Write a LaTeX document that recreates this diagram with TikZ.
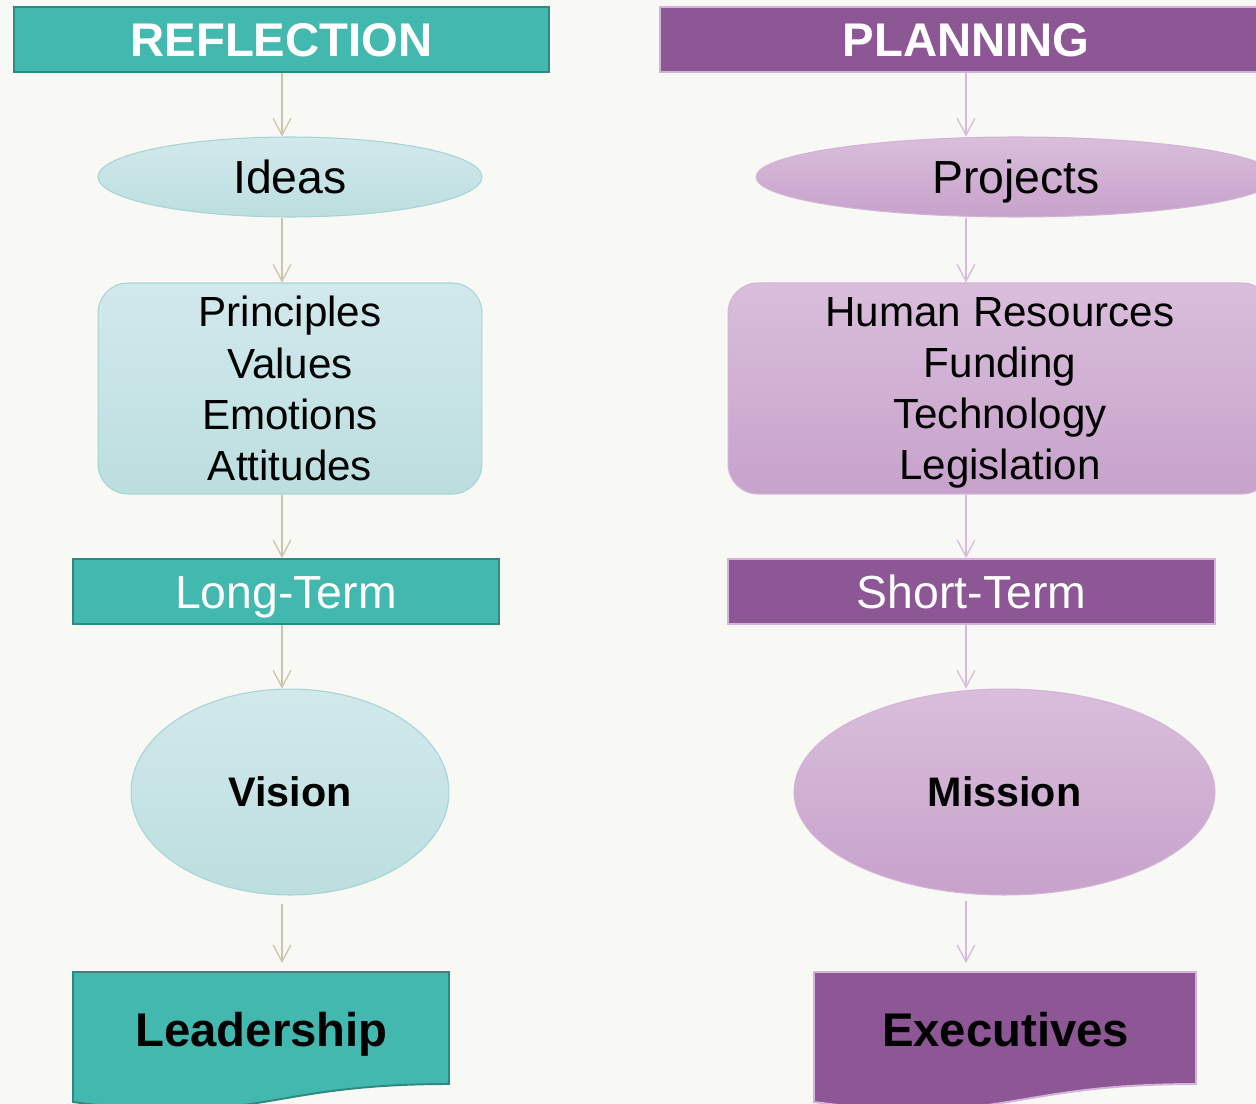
\documentclass[tikz,border=0pt]{standalone}
\usepackage{fontspec}
\setmainfont{Liberation Sans}
\usetikzlibrary{shapes.geometric,arrows.meta}

\definecolor{bgpaper}{HTML}{F8F8F4}
\definecolor{tealfill}{HTML}{43B8AE}
\definecolor{tealedge}{HTML}{2E8A80}
\definecolor{teallight}{HTML}{D2E9EC}
\definecolor{tealmid}{HTML}{BCDEDF}
\definecolor{tealline}{HTML}{A6D4D5}
\definecolor{purpfill}{HTML}{8D5695}
\definecolor{purpedge}{HTML}{D4B3D9}
\definecolor{purplight}{HTML}{D9BEDB}
\definecolor{purpmid}{HTML}{C7A2CB}
\definecolor{tanarrow}{HTML}{C9C5AC}
\definecolor{lilacarrow}{HTML}{D8B8DC}

\begin{document}
\begin{tikzpicture}[
		x={(0.02cm,0cm)},
		y={(0cm,-0.02cm)},
		headbox/.style={line width=1.1pt, inner sep=0pt, minimum height=1.3cm, text=white},
		lightteal/.style={draw=tealline, line width=0.6pt, top color=teallight, bottom color=tealmid, inner sep=0pt},
		lightpurp/.style={draw=purpedge, line width=0.6pt, top color=purplight, bottom color=purpmid, inner sep=0pt},
		flow/.style={line width=0.7pt, -{Straight Barb[length=9.5pt,width=10pt]}},
		bigbold/.style={font=\fontsize{26.9}{32}\selectfont\bfseries, text height=19.3pt, text depth=0pt},
		big/.style={font=\fontsize{26.4}{32}\selectfont, text height=18.9pt, text depth=0pt},
		listfont/.style={font=\fontsize{24}{29.2}\selectfont, align=center, text depth=0pt},
		midbold/.style={font=\fontsize{23.5}{28}\selectfont\bfseries, text height=16.8pt, text depth=0pt},
	]
		\clip (0,0) rectangle (1256,1104);
		\fill[bgpaper] (0,0) rectangle (1256,1104);

		% left column
		\node[headbox, draw=tealedge, fill=tealfill, minimum width=10.7cm, bigbold] (refl) at (281.5,39.5) {REFLECTION};
		\node[lightteal, ellipse, minimum width=7.68cm, minimum height=1.6cm, big] (ideas) at (290,177) {Ideas};
		\node[lightteal, rounded corners=0.6cm, minimum width=7.68cm, minimum height=4.22cm, listfont] (princ) at (290,388.5) {Principles\\Values\\Emotions\\Attitudes};
		\node[headbox, draw=tealedge, fill=tealfill, minimum width=8.52cm, big] (long) at (286,591.5) {Long-Term};
		\node[lightteal, ellipse, minimum width=6.36cm, minimum height=4.12cm, midbold] (vis) at (290,792) {Vision};

		% right column
		\node[headbox, draw=purpedge, fill=purpfill, minimum width=12.24cm, bigbold] (plan) at (966,39.5) {PLANNING};
		\node[lightpurp, ellipse, minimum width=10.4cm, minimum height=1.6cm, big] (proj) at (1016,177) {Projects};
		\node[lightpurp, rounded corners=0.6cm, minimum width=10.88cm, minimum height=4.22cm, listfont] (res) at (1000,388.5) {Human Resources\\Funding\\Technology\\Legislation};
		\node[headbox, draw=purpedge, fill=purpfill, minimum width=9.74cm, big] (short) at (971.5,591.5) {Short-Term};
		\node[lightpurp, ellipse, minimum width=8.42cm, minimum height=4.12cm, midbold] (mis) at (1004.5,792) {Mission};

		% document shapes at the bottom
		\foreach \xa/\xb/\f/\d in {73/449/tealfill/tealedge, 814/1196/purpfill/purpedge}{
			\draw[fill=\f, draw=\d, line width=1.1pt] (\xa,972) -- (\xb,972) -- (\xb,1084) .. controls ({(\xa+\xb)/2},1084) and ({(\xa+\xb)/2},1127) .. (\xa,1102) -- cycle;
		}
		\node[bigbold] (lead) at (261.5,1030) {Leadership};
		\node[bigbold] (exe) at (1005.5,1030) {Executives};
		\coordinate (ltop) at (282,963);
		\coordinate (rtop) at (966,963);

		% connectors
		\foreach \a/\b in {refl/ideas, ideas/princ, princ/long, long/vis}{
			\draw[flow, tanarrow] (\a.south -| ltop) -- (\b.north -| ltop);
		}
		\draw[flow, tanarrow, shorten <=5pt] (vis.south -| ltop) -- (ltop);
		\foreach \a/\b in {plan/proj, proj/res, res/short, short/mis}{
			\draw[flow, lilacarrow] (\a.south -| rtop) -- (\b.north -| rtop);
		}
		\draw[flow, lilacarrow, shorten <=3pt] (mis.south -| rtop) -- (rtop);
	\end{tikzpicture}
\end{document}
